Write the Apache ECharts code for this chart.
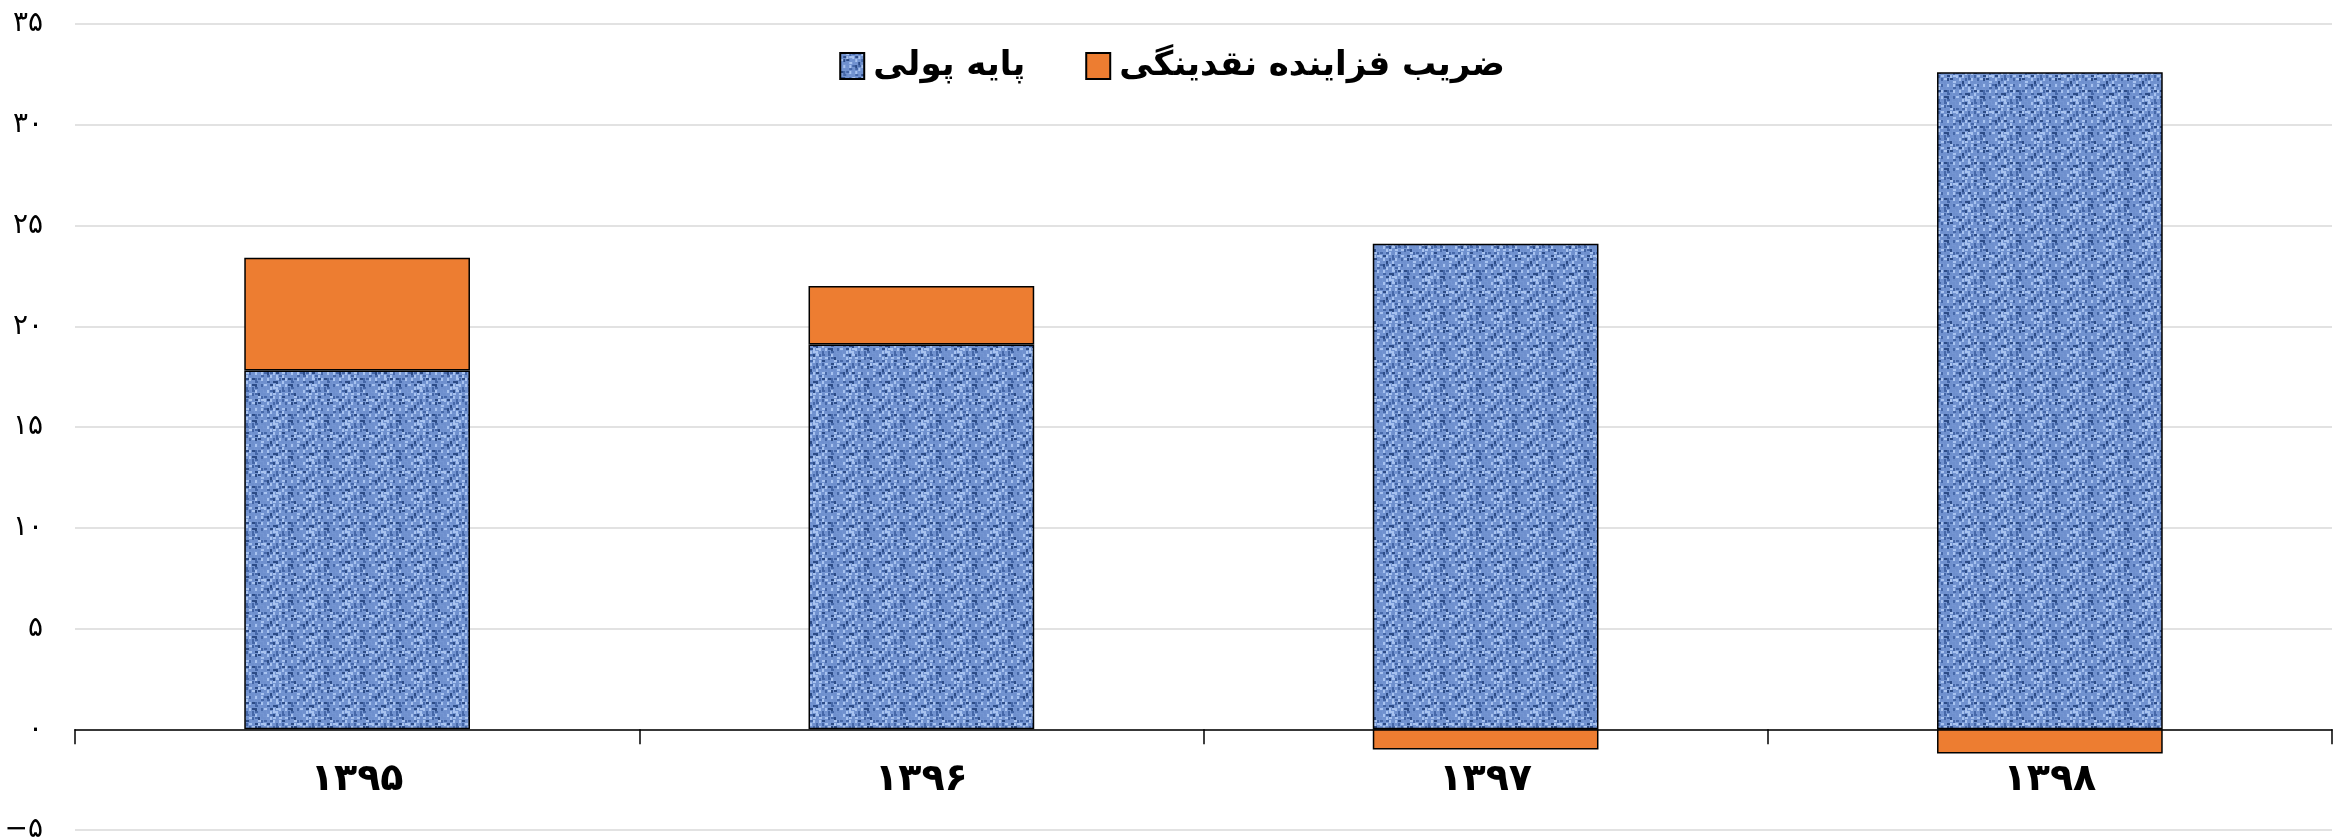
<!DOCTYPE html>
<html>
<head>
<meta charset="utf-8">
<script src="https://cdn.jsdelivr.net/npm/echarts@6/dist/echarts.min.js"></script>
<style>
html, body { margin: 0; padding: 0; background: #fff; }
#main { width: 2344px; height: 839px; }
</style>
</head>
<body>
<div id="main"></div>
<script>
var years = ['1395', '1396', '1397', '1398'];
var baseMoney = [17.8, 19.1, 24.1, 32.6];   // پایه پولی
var multiplier = [5.6, 2.9, -1.0, -1.2];    // ضریب فزاینده نقدینگی
var yTicks = { min: -5, max: 35, step: 5 };

var faDigits = '۰۱۲۳۴۵۶۷۸۹';
function toFa(s) {
    return String(s).replace(/[0-9]/g, function (d) { return faDigits[+d]; });
}

// blue "fabric" texture for the base series
function makeTexture() {
    var c = document.createElement('canvas');
    c.width = 36; c.height = 36;
    var ctx = c.getContext('2d');
    ctx.fillStyle = '#7495d2';
    ctx.fillRect(0, 0, 36, 36);
    var seed = 11;
    function rnd() { seed = (seed * 9301 + 49297) % 233280; return seed / 233280; }
    for (var y = 0; y < 36; y += 3) {
        for (var x = 0; x < 36; x += 3) {
            var r = rnd();
            if (r < 0.25) ctx.fillStyle = '#4567a8';
            else if (r < 0.5) ctx.fillStyle = '#a8c3f0';
            else if (r < 0.62) ctx.fillStyle = '#2c4b86';
            else ctx.fillStyle = '#6f90ce';
            if ((x / 3 + y / 3) % 2 == 0) ctx.fillRect(x, y, 3, 2);
            else ctx.fillRect(x, y, 2, 3);
        }
    }
    return c;
}

var chart = echarts.init(document.getElementById('main'));
var fontFam = '"DejaVu Sans", sans-serif';

var gridTop = 24, gridBottom = 9;
var plotH = 839 - gridTop - gridBottom;
// move the category axis up to the zero line
var zeroOffset = -plotH * (0 - yTicks.min) / (yTicks.max - yTicks.min);

var option = {
    animation: false,
    backgroundColor: '#fff',
    textStyle: { fontFamily: fontFam },
    legend: {
        top: 44,
        left: 'center',
        icon: 'rect',
        itemWidth: 24,
        itemHeight: 26,
        itemGap: 60,
        textStyle: { fontSize: 34, fontWeight: 'bold', color: '#000', fontFamily: fontFam, padding: [0, 0, 0, 4] },
        data: ['پایه پولی', 'ضریب فزاینده نقدینگی']
    },
    grid: { left: 75, right: 12, top: gridTop, bottom: gridBottom, outerBoundsMode: 'none', containLabel: false },
    xAxis: {
        type: 'category',
        data: years,
        position: 'bottom',
        offset: zeroOffset,
        axisLine: { onZero: false, lineStyle: { color: '#000', width: 1.5 } },
        axisTick: { show: true, length: 15, lineStyle: { color: '#000', width: 1.5 } },
        axisLabel: {
            margin: 32,
            fontSize: 38,
            fontWeight: 'bold',
            color: '#000',
            formatter: function (v) { return toFa(v); }
        },
        splitLine: { show: false }
    },
    yAxis: {
        type: 'value',
        min: yTicks.min,
        max: yTicks.max,
        interval: yTicks.step,
        axisLine: { show: false },
        axisTick: { show: false },
        axisLabel: {
            margin: 32,
            fontSize: 28,
            color: '#000',
            formatter: function (v) { return v < 0 ? '−' + toFa(-v) : toFa(v); }
        },
        splitLine: { lineStyle: { color: '#d9d9d9', width: 1.5 } }
    },
    series: [{
        name: 'پایه پولی',
        type: 'bar',
        stack: 'total',
        barWidth: '40%',
        data: baseMoney,
        itemStyle: {
            color: { image: makeTexture(), repeat: 'repeat' },
            borderColor: '#000',
            borderWidth: 1.5
        }
    }, {
        name: 'ضریب فزاینده نقدینگی',
        type: 'bar',
        stack: 'total',
        barWidth: '40%',
        data: multiplier,
        itemStyle: {
            color: '#ED7D31',
            borderColor: '#000',
            borderWidth: 1.5
        }
    }]
};

chart.setOption(option);
</script>
</body>
</html>
